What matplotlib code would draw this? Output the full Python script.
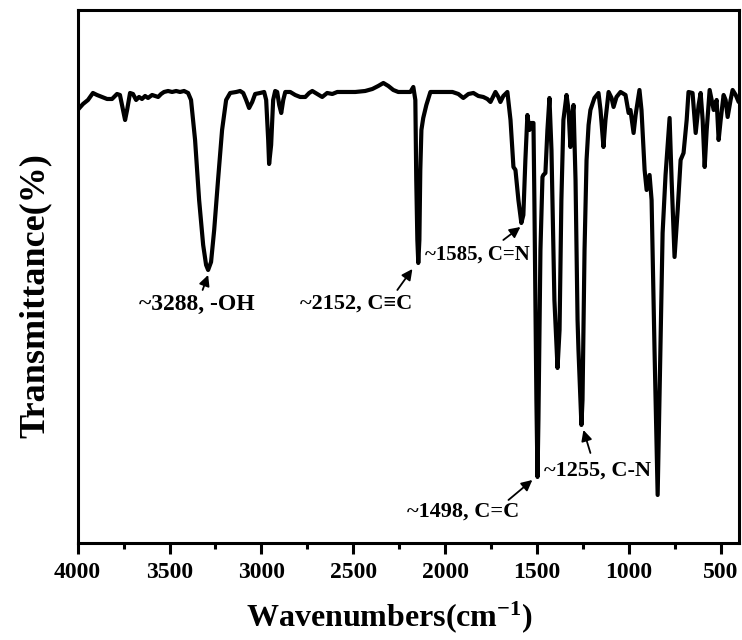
import matplotlib
matplotlib.use("Agg")
import matplotlib.pyplot as plt
from matplotlib.ticker import MultipleLocator

plt.rcParams['font.family'] = ['Liberation Serif', 'DejaVu Serif']
plt.rcParams['font.weight'] = 'bold'
plt.rcParams['mathtext.fontset'] = 'custom'
plt.rcParams['mathtext.rm'] = 'Liberation Serif:bold'
plt.rcParams['mathtext.bf'] = 'Liberation Serif:bold'
plt.rcParams['mathtext.it'] = 'Liberation Serif:bold'
plt.rcParams['mathtext.default'] = 'rm'

wavenumber = [
    4000, 3971, 3944, 3917, 3895, 3868, 3840, 3813, 3786, 3770,
    3753, 3742, 3731, 3715, 3699, 3682, 3666, 3650, 3633, 3617,
    3595, 3579, 3562, 3546, 3530, 3508, 3486, 3464, 3443, 3421,
    3399, 3383, 3361, 3339, 3317, 3301, 3290, 3274, 3257, 3236,
    3214, 3192, 3170, 3137, 3116, 3099, 3083, 3067, 3050, 3034,
    3007, 2985, 2974, 2963, 2958, 2947, 2936, 2925, 2914, 2903,
    2892, 2881, 2870, 2843, 2816, 2789, 2761, 2740, 2723, 2696,
    2669, 2642, 2614, 2587, 2544, 2489, 2435, 2396, 2364, 2336,
    2309, 2282, 2255, 2217, 2189, 2173, 2162, 2157, 2151, 2146,
    2140, 2135, 2129, 2119, 2102, 2080, 2026, 1960, 1928, 1901,
    1873, 1846, 1819, 1792, 1770, 1753, 1737, 1726, 1710, 1699,
    1683, 1661, 1644, 1628, 1617, 1601, 1585, 1574, 1563, 1552,
    1541, 1530, 1519, 1514, 1503, 1497, 1492, 1481, 1470, 1465,
    1454, 1443, 1432, 1421, 1405, 1388, 1377, 1367, 1356, 1339,
    1328, 1318, 1307, 1301, 1290, 1279, 1274, 1263, 1258, 1252,
    1241, 1230, 1219, 1209, 1187, 1165, 1154, 1138, 1127, 1110,
    1094, 1083, 1067, 1045, 1018, 1001, 991, 974, 963, 942,
    931, 914, 903, 887, 876, 860, 843, 833, 816, 800,
    778, 767, 751, 734, 718, 702, 685, 675, 653, 636,
    620, 609, 598, 587, 576, 560, 549, 538, 522, 511,
    500, 484, 473, 462, 446, 435, 418, 402,
]
transmittance = [
    86.6, 87.8, 88.6, 90.0, 89.6, 89.2, 88.8, 88.8, 89.8, 89.6,
    86.6, 84.6, 86.6, 90.0, 89.8, 88.6, 89.2, 88.8, 89.4, 89.0,
    89.6, 89.4, 89.2, 89.8, 90.2, 90.4, 90.2, 90.4, 90.2, 90.4,
    90.0, 88.6, 80.6, 68.6, 59.6, 55.6, 54.6, 56.2, 62.6, 72.6,
    82.6, 88.6, 90.0, 90.2, 90.4, 90.0, 88.6, 87.0, 88.2, 89.8,
    90.0, 90.2, 88.6, 80.6, 75.8, 79.6, 88.6, 90.4, 90.2, 87.6,
    86.0, 88.6, 90.2, 90.2, 89.6, 89.2, 89.2, 90.0, 90.4, 89.8,
    89.2, 90.0, 89.8, 90.2, 90.2, 90.2, 90.4, 90.8, 91.4, 92.0,
    91.4, 90.6, 90.2, 90.2, 90.2, 91.2, 88.6, 72.6, 60.6, 56.0,
    60.6, 74.6, 82.6, 85.0, 87.6, 90.2, 90.2, 90.2, 89.8, 89.0,
    89.8, 90.0, 89.4, 89.2, 88.8, 88.2, 89.4, 90.2, 89.2, 88.2,
    89.4, 90.2, 84.6, 75.2, 74.6, 68.6, 64.0, 65.6, 76.6, 85.6,
    82.6, 84.0, 84.0, 68.6, 28.6, 13.2, 24.6, 58.6, 73.2, 73.6,
    74.0, 82.6, 89.0, 78.6, 48.6, 35.0, 42.6, 68.6, 84.6, 89.6,
    86.6, 79.2, 85.6, 87.6, 72.6, 44.6, 38.6, 28.6, 23.6, 28.6,
    58.6, 76.6, 83.6, 86.6, 89.0, 90.0, 86.6, 79.2, 84.6, 90.2,
    89.0, 87.2, 89.2, 90.2, 89.6, 86.0, 86.6, 82.0, 85.6, 90.6,
    86.6, 74.6, 70.6, 73.6, 68.6, 38.6, 9.6, 28.6, 62.0, 73.6,
    85.0, 72.6, 57.2, 66.6, 76.6, 78.0, 84.6, 90.2, 90.0, 82.0,
    87.6, 90.0, 84.6, 75.2, 82.6, 90.6, 88.6, 86.6, 88.6, 80.6,
    84.6, 89.6, 88.6, 85.2, 88.6, 90.6, 89.6, 88.2,
]

x_ticks = [4000, 3500, 3000, 2500, 2000, 1500, 1000, 500]

# annotations: text, arrow tip, arrow tail, text position, alignment, size
ann_labels = ["~3288, -OH", "~2152, C\u2261C", "~1585, C=N", "~1498, C=C", "~1255, C-N"]
ann_tip = [(3290, 53.6), (2178, 54.8), (1590, 63.2), (1525, 12.6), (1247, 22.6)]
ann_tail = [(3320, 50.6), (2260, 50.6), (1683, 60.6), (1655, 8.6), (1209, 18.0)]
ann_text = [(3350, 47.8), (2483, 47.8), (1541, 57.6), (1901, 6.2), (1170, 14.4)]
ann_ha = ["center", "center", "right", "center", "center"]
ann_size = [17, 16, 15, 16, 16]

fig = plt.figure(figsize=(7.42, 6.40), dpi=100)
ax = fig.add_axes([0.1047, 0.1516, 0.8913, 0.8328])

ax.plot(wavenumber, transmittance, color='black', lw=3.0,
        solid_joinstyle='round', solid_capstyle='round')

ax.set_xlim(4000, 400)
ax.set_ylim(0, 106.6)
ax.set_xticks(x_ticks)
ax.xaxis.set_minor_locator(MultipleLocator(250))
ax.set_yticks([])

for s in ax.spines.values():
    s.set_linewidth(2.2)

ax.tick_params(axis='x', which='major', direction='out', length=8, width=2.2,
               labelsize=17, pad=6)
ax.tick_params(axis='x', which='minor', direction='out', length=4, width=2.2)
for lab in ax.get_xticklabels():
    lab.set_fontweight('bold')

ax.set_xlabel('Wavenumbers(cm$^{-1}$)', fontsize=23, fontweight='bold')
ax.xaxis.set_label_coords(0.472, -0.105)
ax.set_ylabel('Transmittance(%)', fontsize=26, fontweight='bold')
ax.yaxis.set_label_coords(-0.04, 0.465)

for lab, tip, tail, tpos, ha, fs in zip(ann_labels, ann_tip, ann_tail, ann_text, ann_ha, ann_size):
    ax.annotate('', xy=tip, xytext=tail,
                arrowprops=dict(arrowstyle='-|>', lw=1.3, color='black',
                                mutation_scale=16, shrinkA=0, shrinkB=0))
    ax.text(tpos[0], tpos[1], lab, ha=ha, va='center', fontsize=fs,
            fontweight='bold', family=['Liberation Serif', 'DejaVu Serif'])

fig.savefig('out.png', dpi=100)
